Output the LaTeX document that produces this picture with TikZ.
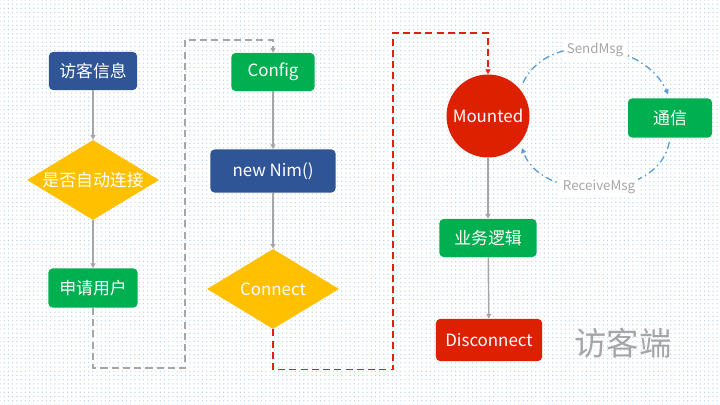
\documentclass[tikz,border=0pt]{standalone}
\usepackage{fontspec}
\setmainfont{Noto Sans CJK SC}
\usetikzlibrary{shapes.geometric,arrows.meta,patterns}
\definecolor{boxblue}{RGB}{47,85,151}
\definecolor{boxgreen}{RGB}{0,176,80}
\definecolor{boxyellow}{RGB}{255,192,0}
\definecolor{boxred}{RGB}{221,33,0}
\definecolor{linegray}{RGB}{166,166,166}
\definecolor{dashred}{RGB}{224,32,20}
\definecolor{msgblue}{RGB}{91,155,213}
\definecolor{dotblue}{RGB}{185,212,236}

\tikzset{
	box/.style={rounded corners=0.1cm, text=white, inner sep=0pt, font=\fontsize{12}{14}\selectfont},
	decide/.style={diamond, aspect=1.65, fill=boxyellow, text=white, inner sep=0pt, minimum width=3.3cm, minimum height=2cm, font=\fontsize{12}{14}\selectfont},
	flow/.style={linegray, line width=1pt, -{Triangle[length=3.5pt,width=3.5pt]}},
	jump/.style={line width=1.1pt, dash pattern=on 5pt off 3pt, -{Triangle[length=3.5pt,width=3.5pt]}},
	msg/.style={msgblue, line width=0.9pt, dash pattern=on 5pt off 2.5pt on 1pt off 2.5pt, -{Triangle[length=3.5pt,width=3.5pt]}},
	msglbl/.style={fill=white, text=linegray, inner sep=2pt, font=\fontsize{9.5}{11}\selectfont}
}

\begin{document}
\begin{tikzpicture}[x=0.025cm, y=-0.025cm]
	% draws the dotted background
	\useasboundingbox (0,0) rectangle (720,405);
	\fill[white] (0,0) rectangle (720,405);
	\fill[pattern=dots, pattern color=dotblue] (0,0) rectangle (720,405);

	% draws the first column
	\node[box, fill=boxblue, minimum width=2.2cm, minimum height=0.95cm] (info) at (93,71) {访客信息};
	\node[decide] (auto) at (93,180) {是否自动连接};
	\node[box, fill=boxgreen, minimum width=2.225cm, minimum height=0.975cm] (apply) at (93,288) {申请用户};

	% draws the second column
	\node[box, fill=boxgreen, minimum width=2.075cm, minimum height=0.95cm] (cfg) at (273,72) {Config};
	\node[box, fill=boxblue, minimum width=3.125cm, minimum height=1.075cm] (nim) at (273,171) {new Nim()};
	\node[decide] (conn) at (273,289) {Connect};

	% draws the third column
	\node[circle, fill=boxred, text=white, inner sep=0pt, minimum size=2.075cm, font=\fontsize{12}{14}\selectfont] (mnt) at (488,116) {Mounted};
	\node[box, fill=boxgreen, minimum width=2.425cm, minimum height=0.95cm] (logic) at (488,238) {业务逻辑};
	\node[box, fill=boxred, minimum width=2.65cm, minimum height=1.05cm] (disc) at (489,340) {Disconnect};
	\node[box, fill=boxgreen, minimum width=2.1cm, minimum height=0.975cm] (comm) at (670,118) {通信};

	\node[text=linegray, font=\fontsize{23}{26}\selectfont] (side) at (623,343) {访客端};

	% draws the arrows
	\draw[flow] (info) -- (auto);
	\draw[flow] (auto) -- (apply);
	\draw[flow] (cfg) -- (nim);
	\draw[flow] (nim) -- (conn);
	\draw[flow] (mnt) -- (logic);
	\draw[flow] (logic) -- (disc);

	\draw[jump, linegray] (apply.south) -- ++(0,60) -| (185,40) -| (cfg.north);
	\draw[jump, dashred] (conn.south) -- ++(0,40) -| (393,33) -| (mnt.north);

	\draw[msg, shorten <=5pt, shorten >=3pt] (mnt.40) to[out=65, in=115, looseness=1.1] node[msglbl] {SendMsg} (comm.north);
	\draw[msg, shorten <=3pt, shorten >=4pt] (comm.south) to[out=-100, in=-70, looseness=1.1] node[msglbl] {ReceiveMsg} (mnt.-40);
\end{tikzpicture}
\end{document}
